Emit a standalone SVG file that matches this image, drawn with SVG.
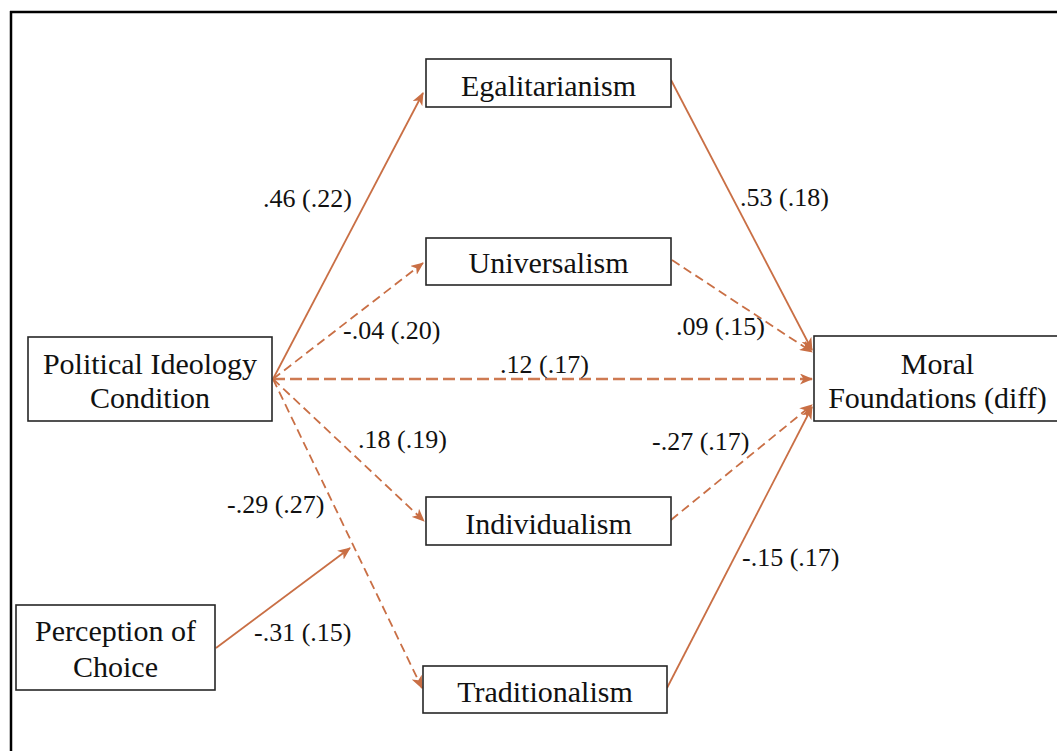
<svg xmlns="http://www.w3.org/2000/svg" width="1057" height="751" viewBox="0 0 1057 751">
  <style>
    .box { fill: #ffffff; stroke: #262626; stroke-width: 1.6; }
    .nt { font-family: "Liberation Serif", "Times New Roman", serif; font-size: 30px; fill: #111111; text-anchor: middle; }
    .lb { font-family: "Liberation Serif", "Times New Roman", serif; font-size: 26px; fill: #111111; }
    .solid { stroke: #C96F45; stroke-width: 1.8; fill: none; }
    .dash { stroke: #C96F45; stroke-width: 1.8; fill: none; stroke-dasharray: 9 5; }
    .dashthick { stroke: #CE7A52; stroke-width: 2.6; fill: none; stroke-dasharray: 12 5; }
  </style>
  <defs>
    <marker id="ah" viewBox="0 0 13 11" refX="12" refY="5.5" markerWidth="13" markerHeight="11" markerUnits="userSpaceOnUse" orient="auto">
      <path d="M0,0 L13,5.5 L0,11 L3.5,5.5 Z" fill="#C96F45"/>
    </marker>
  </defs>
  <rect x="0" y="0" width="1057" height="751" fill="#ffffff"/>
  <g id="frame">
    <line x1="10" y1="12" x2="1057" y2="12" stroke="#000" stroke-width="2.5"/>
    <line x1="11" y1="11" x2="11" y2="751" stroke="#000" stroke-width="2.5"/>
  </g>
  <g id="connectors">
    <line class="solid" x1="273" y1="379" x2="423" y2="93" marker-end="url(#ah)"/>
    <line class="dash" x1="273" y1="379" x2="423" y2="263" marker-end="url(#ah)"/>
    <line class="dashthick" x1="273" y1="379" x2="812" y2="379" marker-end="url(#ah)"/>
    <line class="dash" x1="273" y1="379" x2="424" y2="521" marker-end="url(#ah)"/>
    <line class="dash" x1="273" y1="379" x2="422" y2="688" marker-end="url(#ah)"/>
    <line class="solid" x1="671" y1="80" x2="812" y2="350" marker-end="url(#ah)"/>
    <line class="dash" x1="672" y1="260" x2="812" y2="352" marker-end="url(#ah)"/>
    <line class="dash" x1="671" y1="520" x2="812" y2="405" marker-end="url(#ah)"/>
    <line class="solid" x1="667" y1="688" x2="812" y2="407" marker-end="url(#ah)"/>
    <line class="solid" x1="216" y1="648" x2="350" y2="548" marker-end="url(#ah)"/>
  </g>
  <g id="labels">
    <text class="lb" x="263" y="207">.46 (.22)</text>
    <text class="lb" x="343" y="339">-.04 (.20)</text>
    <text class="lb" x="500" y="373">.12 (.17)</text>
    <text class="lb" x="358" y="448">.18 (.19)</text>
    <text class="lb" x="227" y="513">-.29 (.27)</text>
    <text class="lb" x="254" y="641">-.31 (.15)</text>
    <text class="lb" x="740" y="206">.53 (.18)</text>
    <text class="lb" x="676" y="335">.09 (.15)</text>
    <text class="lb" x="652" y="450">-.27 (.17)</text>
    <text class="lb" x="742" y="566">-.15 (.17)</text>
  </g>
  <g id="political">
    <rect class="box" x="28" y="337" width="244" height="84"/>
    <text class="nt" x="150" y="374">Political Ideology</text>
    <text class="nt" x="150" y="408">Condition</text>
  </g>
  <g id="perception">
    <rect class="box" x="16" y="605" width="199" height="85"/>
    <text class="nt" x="115.5" y="641">Perception of</text>
    <text class="nt" x="115.5" y="677">Choice</text>
  </g>
  <g id="egalitarianism">
    <rect class="box" x="426" y="59" width="245" height="48"/>
    <text class="nt" x="548.5" y="96">Egalitarianism</text>
  </g>
  <g id="universalism">
    <rect class="box" x="426" y="238" width="245" height="47"/>
    <text class="nt" x="548.5" y="273">Universalism</text>
  </g>
  <g id="individualism">
    <rect class="box" x="426" y="497" width="245" height="48"/>
    <text class="nt" x="548.5" y="534">Individualism</text>
  </g>
  <g id="traditionalism">
    <rect class="box" x="423" y="666" width="244" height="47"/>
    <text class="nt" x="545" y="702">Traditionalism</text>
  </g>
  <g id="moral">
    <rect class="box" x="814" y="336" width="248" height="85"/>
    <text class="nt" x="937.5" y="374">Moral</text>
    <text class="nt" x="937.5" y="408">Foundations (diff)</text>
  </g>
</svg>
